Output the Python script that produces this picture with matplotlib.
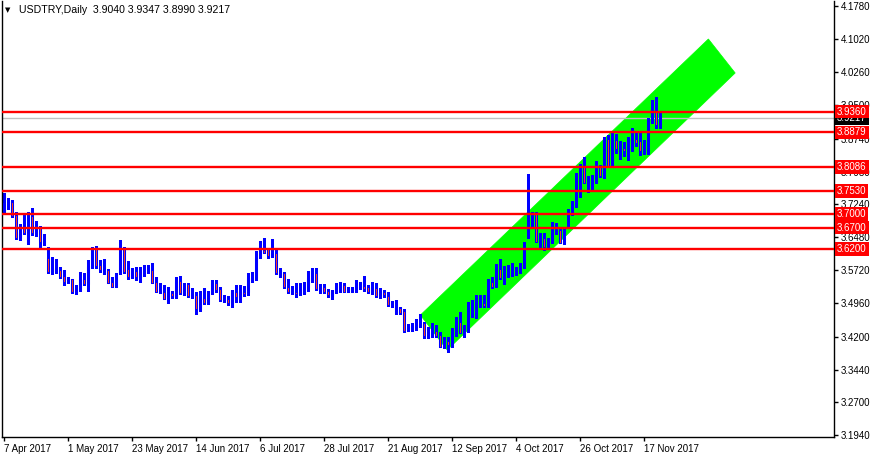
import numpy as np
import matplotlib
matplotlib.use("Agg")
import matplotlib.pyplot as plt
from matplotlib.patches import Polygon
import matplotlib.transforms as mtransforms

plt.rcParams['font.family'] = ['Liberation Sans', 'DejaVu Sans']

symbol_title = "USDTRY,Daily"
last_ohlc = ["3.9040", "3.9347", "3.8990", "3.9217"]

date_labels = ["7 Apr 2017", "1 May 2017", "23 May 2017", "14 Jun 2017", "6 Jul 2017",
               "28 Jul 2017", "21 Aug 2017", "12 Sep 2017", "4 Oct 2017", "26 Oct 2017",
               "17 Nov 2017"]
date_label_bars = [0, 16, 32, 48, 64, 80, 96, 112, 128, 144, 160]

opens = [
    3.7078, 3.7274, 3.7285, 3.6987, 3.6459, 3.6695, 3.6337, 3.6957, 3.6580, 3.6695,
    3.6351, 3.6001, 3.5686, 3.5709, 3.5725, 3.5587, 3.5479, 3.5511, 3.5227, 3.5282,
    3.5511, 3.5397, 3.5787, 3.6214, 3.5833, 3.5663, 3.5725, 3.5443, 3.5342, 3.5649,
    3.6223, 3.5741, 3.5557, 3.5695, 3.5572, 3.5649, 3.5725, 3.5725, 3.5443, 3.5204,
    3.5220, 3.5083, 3.5197, 3.5099, 3.5472, 3.5174, 3.5397, 3.5128, 3.5151, 3.4807,
    3.5083, 3.4975, 3.5190, 3.5434, 3.5289, 3.5037, 3.5060, 3.4975, 3.5227, 3.5090,
    3.5227, 3.5227, 3.5495, 3.5511, 3.6008, 3.6184, 3.6200, 3.6047, 3.6108, 3.5626,
    3.5649, 3.5328, 3.5204, 3.5220, 3.5168, 3.5204, 3.5319, 3.5495, 3.5663, 3.5296,
    3.5328, 3.5236, 3.5113, 3.5204, 3.5282, 3.5381, 3.5227, 3.5227, 3.5266, 3.5328,
    3.5358, 3.5342, 3.5204, 3.5319, 3.5136, 3.5220, 3.5128, 3.4914, 3.4732, 3.4846,
    3.4784, 3.4372, 3.4365, 3.4410, 3.4440, 3.4502, 3.4172, 3.4257, 3.4326, 3.4234,
    3.3966, 3.4104, 3.4005, 3.4287, 3.4539, 3.4257, 3.4348, 3.4823, 3.4823, 3.4975,
    3.4975, 3.4899, 3.5443, 3.5358, 3.5748, 3.5534, 3.5587, 3.5610, 3.5649, 3.5663,
    3.5787, 3.6475, 3.6934, 3.7025, 3.6374, 3.6452, 3.6260, 3.6374, 3.6566, 3.6642,
    3.6337, 3.6934, 3.7009, 3.7254, 3.7560, 3.8080, 3.7636, 3.7636, 3.7750, 3.8080,
    3.7851, 3.8723, 3.8110, 3.8707, 3.8477, 3.8516, 3.8477, 3.8516, 3.8723, 3.8691,
    3.8439, 3.8416, 3.9126, 3.9379, 3.9040]

highs = [
    3.7491, 3.7377, 3.7331, 3.7055, 3.6780, 3.6987, 3.7055, 3.7147, 3.6849, 3.6734,
    3.6551, 3.6246, 3.6030, 3.5977, 3.5801, 3.5725, 3.5557, 3.5525, 3.5381, 3.5686,
    3.5663, 3.5954, 3.6260, 3.6276, 3.5954, 3.5977, 3.5741, 3.5557, 3.5663, 3.6413,
    3.6260, 3.5938, 3.5778, 3.5787, 3.5787, 3.5833, 3.5840, 3.5892, 3.5557, 3.5420,
    3.5381, 3.5328, 3.5243, 3.5564, 3.5587, 3.5420, 3.5420, 3.5305, 3.5220, 3.5243,
    3.5305, 3.5250, 3.5495, 3.5495, 3.5328, 3.5145, 3.5128, 3.5266, 3.5381, 3.5381,
    3.5358, 3.5663, 3.5679, 3.6161, 3.6390, 3.6452, 3.6237, 3.6436, 3.6207, 3.5764,
    3.5672, 3.5511, 3.5358, 3.5420, 3.5420, 3.5443, 3.5709, 3.5764, 3.5764, 3.5404,
    3.5397, 3.5282, 3.5266, 3.5420, 3.5457, 3.5420, 3.5342, 3.5342, 3.5495, 3.5457,
    3.5587, 3.5381, 3.5457, 3.5434, 3.5305, 3.5266, 3.5227, 3.5021, 3.5037, 3.4884,
    3.4823, 3.4486, 3.4502, 3.4594, 3.4716, 3.4539, 3.4425, 3.4502, 3.4463, 3.4310,
    3.4196, 3.4196, 3.4387, 3.4640, 3.4755, 3.4463, 3.4998, 3.5037, 3.5151, 3.5151,
    3.5151, 3.5511, 3.5572, 3.5855, 3.5970, 3.5817, 3.5833, 3.5879, 3.5787, 3.5892,
    3.6374, 3.7927, 3.7062, 3.7062, 3.6566, 3.6566, 3.6452, 3.6833, 3.6810, 3.6718,
    3.6718, 3.7117, 3.7315, 3.7943, 3.8156, 3.8310, 3.7881, 3.7904, 3.8225, 3.8133,
    3.8783, 3.8822, 3.8861, 3.8838, 3.8684, 3.8668, 3.8769, 3.8975, 3.8875, 3.8898,
    3.8707, 3.9204, 3.9624, 3.9686, 3.9347]

lows = [
    3.7032, 3.7124, 3.6941, 3.6436, 3.6413, 3.6562, 3.6321, 3.6528, 3.6505, 3.6253,
    3.6299, 3.5656, 3.5633, 3.5649, 3.5534, 3.5381, 3.5434, 3.5190, 3.5174, 3.5243,
    3.5381, 3.5250, 3.5764, 3.5764, 3.5672, 3.5633, 3.5420, 3.5328, 3.5328, 3.5633,
    3.5663, 3.5511, 3.5534, 3.5495, 3.5457, 3.5587, 3.5663, 3.5420, 3.5220, 3.5190,
    3.5053, 3.4975, 3.5090, 3.5083, 3.5168, 3.5145, 3.5113, 3.5090, 3.4723, 3.4784,
    3.4945, 3.4945, 3.5168, 3.5227, 3.5021, 3.4998, 3.4929, 3.4876, 3.4998, 3.4991,
    3.5128, 3.5145, 3.5443, 3.5495, 3.5994, 3.6108, 3.6008, 3.6031, 3.5626, 3.5572,
    3.5305, 3.5190, 3.5168, 3.5113, 3.5151, 3.5181, 3.5243, 3.5457, 3.5266, 3.5190,
    3.5190, 3.5099, 3.5067, 3.5190, 3.5227, 3.5213, 3.5213, 3.5213, 3.5227, 3.5282,
    3.5250, 3.5204, 3.5174, 3.5113, 3.5090, 3.5113, 3.4899, 3.4876, 3.4716, 3.4716,
    3.4310, 3.4326, 3.4333, 3.4348, 3.4425, 3.4158, 3.4158, 3.4196, 3.4196, 3.3952,
    3.3929, 3.3851, 3.3966, 3.4211, 3.4273, 3.4196, 3.4310, 3.4640, 3.4617, 3.4884,
    3.4869, 3.4884, 3.5305, 3.5328, 3.5511, 3.5404, 3.5572, 3.5595, 3.5610, 3.5649,
    3.5764, 3.6466, 3.6718, 3.6367, 3.6200, 3.6184, 3.6200, 3.6351, 3.6551, 3.6337,
    3.6321, 3.6718, 3.6987, 3.7177, 3.7392, 3.7713, 3.7521, 3.7544, 3.7727, 3.7851,
    3.7828, 3.8080, 3.8080, 3.8401, 3.8264, 3.8340, 3.8248, 3.8462, 3.8569, 3.8363,
    3.8386, 3.8386, 3.9090, 3.8985, 3.8990]

closes = [
    3.7262, 3.7308, 3.6964, 3.6459, 3.6608, 3.6580, 3.6987, 3.6566, 3.6695, 3.6374,
    3.6397, 3.5686, 3.5771, 3.5771, 3.5572, 3.5457, 3.5525, 3.5227, 3.5319, 3.5511,
    3.5404, 3.5817, 3.6237, 3.5824, 3.5718, 3.5725, 3.5434, 3.5342, 3.5649, 3.6223,
    3.5686, 3.5557, 3.5686, 3.5557, 3.5649, 3.5702, 3.5748, 3.5434, 3.5227, 3.5266,
    3.5067, 3.5204, 3.5122, 3.5472, 3.5190, 3.5305, 3.5136, 3.5174, 3.4837, 3.5113,
    3.4961, 3.5204, 3.5434, 3.5266, 3.5044, 3.5067, 3.4961, 3.5243, 3.5099, 3.5243,
    3.5168, 3.5534, 3.5534, 3.5994, 3.6184, 3.6122, 3.6047, 3.6122, 3.5649, 3.5663,
    3.5328, 3.5213, 3.5259, 3.5168, 3.5220, 3.5282, 3.5534, 3.5702, 3.5289, 3.5335,
    3.5227, 3.5145, 3.5220, 3.5266, 3.5381, 3.5227, 3.5282, 3.5319, 3.5342, 3.5420,
    3.5296, 3.5227, 3.5342, 3.5136, 3.5227, 3.5145, 3.4914, 3.4922, 3.4884, 3.4732,
    3.4333, 3.4395, 3.4440, 3.4463, 3.4486, 3.4211, 3.4310, 3.4365, 3.4211, 3.3966,
    3.4058, 3.4005, 3.4310, 3.4539, 3.4287, 3.4348, 3.4846, 3.4869, 3.4998, 3.5021,
    3.4899, 3.5457, 3.5342, 3.5741, 3.5534, 3.5610, 3.5649, 3.5686, 3.5686, 3.5817,
    3.6122, 3.6934, 3.7039, 3.6374, 3.6452, 3.6246, 3.6397, 3.6566, 3.6681, 3.6351,
    3.6528, 3.7039, 3.7254, 3.7560, 3.8080, 3.7728, 3.7675, 3.7773, 3.8019, 3.7881,
    3.8746, 3.8110, 3.8723, 3.8493, 3.8516, 3.8462, 3.8569, 3.8723, 3.8646, 3.8462,
    3.8592, 3.9165, 3.9411, 3.9040, 3.9217]

levels = [3.9360, 3.8879, 3.8086, 3.7530, 3.7000, 3.6700, 3.6200]
level_labels = ["3.9360", "3.8879", "3.8086", "3.7530", "3.7000", "3.6700", "3.6200"]
bid_price = 3.9217
bid_label = "3.9217"

# channel corners: (bar index, price)
channel_bars = [104.2, 110.9, 182.9, 176.2]
channel_prices = [3.4692, 3.3890, 4.0244, 4.1024]

ytick_values = [4.178, 4.102, 4.026, 3.950, 3.874, 3.798, 3.724, 3.648, 3.572,
                3.496, 3.420, 3.344, 3.270, 3.194]
ytick_labels = ["4.1780", "4.1020", "4.0260", "3.9500", "3.8740", "3.7980", "3.7240",
                "3.6480", "3.5720", "3.4960", "3.4200", "3.3440", "3.2700", "3.1940"]

BLUE = "#0000FF"
BEAR = "#FF4020"
RED = "#FF0000"
FS = 7

W, H = 874, 459
fig = plt.figure(figsize=(W / 100, H / 100), dpi=100)
fig.patch.set_facecolor("white")
ax = fig.add_axes([2 / W, (H - 437) / H, (834 - 2) / W, (437 - 1) / H])
ax.set_facecolor("white")

o = np.array(opens); h = np.array(highs); l = np.array(lows); c = np.array(closes)
n = len(o)
x = np.arange(n)

# green channel
poly = Polygon(list(zip(channel_bars, channel_prices)), closed=True,
               facecolor="#00FF00", edgecolor="#00FF00", lw=0.5, zorder=1)
ax.add_patch(poly)

# bid line
ax.axhline(bid_price, color="#C0C0C0", lw=1, zorder=1.5)

# candles
ax.vlines(x, l, h, color=BLUE, lw=1, zorder=2, antialiased=False)
bull = c >= o
bottoms = np.minimum(o, c)
heights = np.maximum(np.abs(c - o), 0.0008)
ax.bar(x[bull], heights[bull], bottom=bottoms[bull], width=0.5, color=BLUE,
       edgecolor=BLUE, lw=0.75, zorder=3)
ax.bar(x[~bull], heights[~bull], bottom=bottoms[~bull], width=0.5, color=BEAR,
       edgecolor=BLUE, lw=0.75, zorder=3)

# red levels
for lv in levels:
    ax.axhline(lv, color=RED, lw=1.7, zorder=4)

# axes limits
ax.set_xlim(-0.4, 207.6)
ax.set_ylim(3.1895, 4.1895)

# spines
for s in ["left", "bottom", "right"]:
    ax.spines[s].set_color("black")
    ax.spines[s].set_linewidth(1)
ax.spines["top"].set_visible(False)

ax.yaxis.tick_right()
ax.set_yticks(ytick_values)
ax.set_yticklabels(ytick_labels)
ax.tick_params(axis="y", direction="out", length=3, width=1, pad=2,
               labelsize=FS, colors="black")
ax.set_xticks(date_label_bars)
ax.set_xticklabels(date_labels, ha="left")
ax.tick_params(axis="x", direction="out", length=3, width=1, pad=2,
               labelsize=FS, colors="black")
for lab in ax.get_xticklabels():
    lab.set_horizontalalignment("left")

# right price labels (bid box first, level boxes drawn over it)
trans = mtransforms.blended_transform_factory(ax.transAxes, ax.transData)
ax.text(1.0 + 3 / 832, bid_price, bid_label, transform=trans, ha="left", va="center",
        fontsize=FS, color="white", clip_on=False, zorder=9,
        bbox=dict(boxstyle="square,pad=0.2", fc="black", ec="none"))
for lv, txt in zip(levels, level_labels):
    ax.text(1.0 + 3 / 832, lv, txt, transform=trans, ha="left", va="center",
            fontsize=FS, color="white", clip_on=False, zorder=10,
            bbox=dict(boxstyle="square,pad=0.2", fc=RED, ec="none"))

# title
fig.text(5 / W, 1 - 10 / H, "\u25BC", fontsize=5, color="black", ha="left",
         va="center", family="DejaVu Sans")
fig.text(19 / W, 1 - 10 / H,
         symbol_title + "  " + " ".join(last_ohlc),
         fontsize=7.6, color="black", ha="left", va="center")

fig.savefig("out.png", dpi=100, facecolor="white")
